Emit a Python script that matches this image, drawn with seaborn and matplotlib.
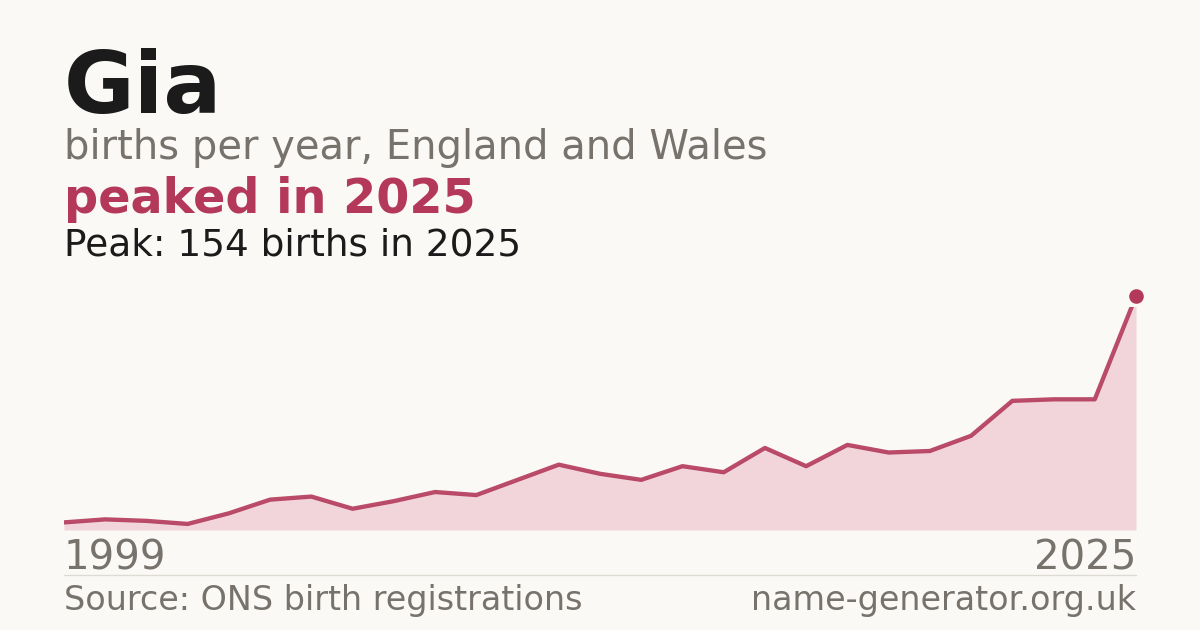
import numpy as np
import pandas as pd
import matplotlib
matplotlib.use('Agg')
import matplotlib.pyplot as plt
import seaborn as sns

years = list(range(1999, 2026))
births = [5, 7, 6, 4, 11, 20, 22, 14, 19, 25, 23, 33, 43, 37, 33, 42, 38, 54, 42,
          56, 51, 52, 62, 85, 86, 86, 154]

name = 'Gia'
subtitle = 'births per year, England and Wales'
headline = 'peaked in 2025'
peak_note = 'Peak: 154 births in 2025'
source = 'Source: ONS birth registrations'
site = 'name-generator.org.uk'

bg = '#faf9f5'
red = '#b3385a'
fill = '#f1d5da'
grey = '#77726b'

df = pd.DataFrame({'year': years, 'births': births})

sns.set_style('white')
plt.rcParams['font.family'] = ['DejaVu Sans']

W, H = 1200, 630
fig = plt.figure(figsize=(12, 6.3), dpi=100, facecolor=bg)

# plot area: x 64..1136 px, baseline at 530 px, top clip at 307 px
ax = fig.add_axes([64 / W, 1 - 530 / H, 1072 / W, (530 - 307) / H])
ax.set_facecolor(bg)
peak = max(births)
ymax = peak * (530 - 307) / (530 - 296)

ax.fill_between(df['year'], df['births'], 0, color=fill, lw=0)
sns.lineplot(data=df, x='year', y='births', ax=ax, color=red, lw=3.1, alpha=0.9)
ipk = int(np.argmax(births))
ax.scatter([years[ipk]], [births[ipk]], s=110, color=red, zorder=5, clip_on=False,
           linewidth=0)

ax.set_xlim(years[0], years[-1])
ax.set_ylim(0, ymax)
ax.axis('off')

def fy(y):
    return 1 - y / H

fig.text(64 / W, fy(113), name, fontsize=62, fontweight='bold', color='#1b1b1b', va='baseline')
fig.text(64 / W, fy(159), subtitle, fontsize=28.8, color=grey, va='baseline')
fig.text(64 / W, fy(213), headline, fontsize=34.4, fontweight='bold', color=red, va='baseline')
fig.text(64 / W, fy(255), peak_note, fontsize=27, color='#1b1b1b', va='baseline')

fig.text(64 / W, fy(570), str(years[0]), fontsize=29, color=grey, va='baseline')
fig.text(1136 / W, fy(570), str(years[-1]), fontsize=29, color=grey, va='baseline', ha='right')

fig.add_artist(plt.Line2D([64 / W, 1136 / W], [fy(574.5), fy(574.5)], color='#dedbd4', lw=1))

fig.text(64 / W, fy(610), source, fontsize=24, color=grey, va='baseline')
fig.text(1136 / W, fy(610), site, fontsize=24, color=grey, va='baseline', ha='right')

fig.savefig('out.png', dpi=100, facecolor=bg)
